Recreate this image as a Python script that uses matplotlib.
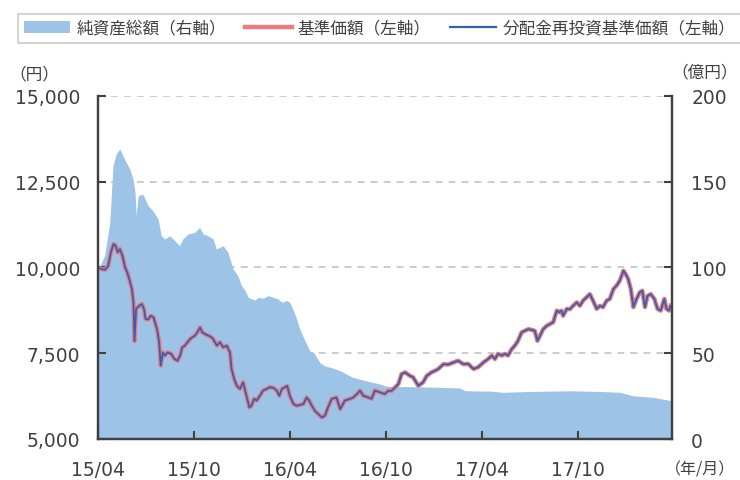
import pandas as pd
import matplotlib
matplotlib.use('Agg')
import matplotlib.pyplot as plt
import matplotlib.dates as mdates
from matplotlib.patches import Patch
from matplotlib.lines import Line2D
from matplotlib.ticker import FuncFormatter

plt.rcParams['font.family'] = ['DejaVu Sans', 'Noto Sans CJK JP']

start = pd.Timestamp('2015-04-01')

# 基準価額（円）: 経過日数 (2015/04/01起点) と値
nav_day = [0, 6, 13, 19, 24, 29, 33, 37, 41, 46, 51, 55, 59, 64, 67, 69, 72, 78, 83, 87,
           90, 95, 100, 105, 108, 112, 116, 119, 123, 127, 132, 139, 145, 151, 156, 160, 165, 170, 175, 179,
           184, 189, 194, 198, 203, 210, 216, 219, 226, 232, 238, 245, 251, 254, 259, 264, 270, 276, 280, 284,
           288, 292, 297, 302, 308, 314, 321, 327, 334, 340, 345, 350, 356, 360, 365, 372, 378, 384, 391, 397,
           402, 407, 413, 419, 426, 432, 438, 445, 454, 461, 470, 480, 486, 493, 499, 505, 515, 521, 527, 537,
           546, 553, 559, 566, 572, 578, 585, 594, 600, 610, 619, 626, 635, 642, 648, 658, 667, 677, 686, 696,
           705, 715, 724, 734, 743, 750, 756, 762, 769, 775, 781, 788, 794, 800, 807, 813, 820, 826, 832, 837,
           842, 848, 855, 861, 867, 874, 879, 883, 886, 893, 899, 905, 912, 918, 924, 931, 937, 943, 950, 956,
           962, 969, 975, 982, 988, 994, 1001, 1005, 1010, 1015, 1020, 1026, 1032, 1037, 1042, 1047, 1053, 1060, 1066, 1072,
           1079, 1083, 1088, 1091]
nav = [10000, 9950, 9930, 10050, 10440, 10680, 10630, 10440, 10530, 10340, 10000, 9860, 9660, 9370, 8980, 7850, 8790, 8880, 8930, 8790,
       8500, 8480, 8590, 8550, 8400, 8200, 7820, 7140, 7520, 7430, 7520, 7480, 7330, 7280, 7430, 7670, 7720, 7820, 7910, 7960,
       8010, 8110, 8250, 8110, 8060, 8010, 7960, 7910, 7720, 7820, 7670, 7720, 7520, 7040, 6750, 6550, 6460, 6650, 6410, 6170,
       5920, 5970, 6170, 6120, 6260, 6410, 6460, 6510, 6490, 6410, 6260, 6460, 6510, 6550, 6260, 6020, 5970, 5990, 6020, 6210,
       6120, 5970, 5820, 5730, 5630, 5680, 5930, 6170, 6210, 5870, 6120, 6170, 6210, 6310, 6410, 6260, 6210, 6170, 6410, 6360,
       6310, 6410, 6400, 6510, 6600, 6890, 6940, 6840, 6800, 6550, 6650, 6840, 6940, 6990, 7040, 7180, 7170, 7230, 7280, 7180,
       7190, 7040, 7090, 7230, 7330, 7430, 7330, 7480, 7430, 7480, 7430, 7620, 7720, 7860, 8110, 8150, 8200, 8180, 8150, 7860,
       8010, 8200, 8300, 8350, 8400, 8740, 8690, 8740, 8590, 8790, 8780, 8880, 8980, 8880, 9030, 9130, 9220, 9030, 8790, 8880,
       8840, 9030, 9080, 9370, 9470, 9610, 9900, 9810, 9660, 9370, 8840, 9080, 9270, 9320, 8840, 9170, 9220, 9080, 8790, 8740,
       9080, 8790, 8740, 8880]

# 分配金再投資基準価額（円）: 分配実績なしのため基準価額と同じ
reinv_day = list(nav_day)
reinv = list(nav)

# 純資産総額（億円）
aum_day = [0, 12, 22, 28, 34, 41, 47, 53, 60, 66, 70, 72, 76, 85, 95, 104, 114, 120, 127, 136,
           146, 155, 161, 171, 184, 193, 200, 209, 219, 225, 238, 247, 257, 266, 273, 280, 286, 292, 299, 305,
           314, 324, 334, 343, 350, 359, 365, 372, 378, 384, 391, 397, 403, 410, 416, 423, 432, 442, 461, 485,
           512, 537, 550, 581, 613, 651, 689, 699, 747, 771, 823, 899, 956, 994, 1019, 1057, 1093]
aum = [99.0, 106.8, 126.4, 159.2, 166.0, 169.0, 165.0, 161.2, 157.3, 151.5, 143.7, 130.1, 141.7, 142.7, 135.9, 133.0, 128.2, 118.4, 116.5, 118.4,
       115.5, 112.6, 116.5, 119.4, 120.4, 123.3, 119.4, 118.4, 116.5, 110.7, 112.6, 108.8, 99.0, 95.1, 89.3, 86.4, 82.5, 81.6, 81.0, 82.5,
       82.0, 83.5, 82.5, 81.6, 79.6, 80.6, 79.6, 74.7, 69.9, 64.1, 59.2, 55.3, 51.4, 50.5, 47.6, 44.3, 42.5, 41.8, 39.8, 35.9,
       33.8, 32.0, 30.7, 30.5, 30.4, 30.1, 29.7, 28.1, 27.9, 27.2, 27.7, 28.1, 27.7, 27.2, 25.2, 24.3, 22.3]

nav_dates = start + pd.to_timedelta(nav_day, unit='D')
reinv_dates = start + pd.to_timedelta(reinv_day, unit='D')
aum_dates = start + pd.to_timedelta(aum_day, unit='D')

txt = '#404040'
c_area = '#9DC3E6'
c_red = '#EE7A80'
c_blue = '#2E62B2'

fig = plt.figure(figsize=(7.4, 4.81), dpi=100)
ax = fig.add_axes([98.3 / 740, 1 - 440 / 481, (671.7 - 98.3) / 740, (440 - 96.7) / 481])
ax2 = ax.twinx()

# 面グラフ（右軸）とグリッドは後ろ、線は前
ax2.fill_between(aum_dates, aum, 0, color=c_area, lw=0, zorder=1)
ax2.set_ylim(0, 200)
ax2.set_yticks([0, 50, 100, 150, 200])
ax2.yaxis.grid(True, ls=(0, (4.5, 4)), color='#BFBFBF', lw=1.1)
ax2.set_axisbelow(True)

ax.set_zorder(ax2.get_zorder() + 1)
ax.patch.set_visible(False)
ax.plot(nav_dates, nav, color=c_red, lw=3.2, solid_joinstyle='round')
ax.plot(reinv_dates, reinv, color=c_blue, lw=1.3)
ax.set_ylim(5000, 15000)
ax.set_yticks([5000, 7500, 10000, 12500, 15000])
ax.yaxis.set_major_formatter(FuncFormatter(lambda v, p: f'{int(v):,}'))

ax.set_xlim(start, start + pd.Timedelta(days=1093))
ax.xaxis.set_major_locator(mdates.MonthLocator(bymonth=[4, 10]))
ax.xaxis.set_major_formatter(mdates.DateFormatter('%y/%m'))

for a in (ax, ax2):
    a.spines['top'].set_visible(False)
    for s in ('left', 'right', 'bottom'):
        a.spines[s].set_color(txt)
        a.spines[s].set_linewidth(1.6)
ax.tick_params(axis='y', direction='in', length=6, width=1.5, color=txt,
               labelsize=13.5, labelcolor=txt, pad=13)
ax.tick_params(axis='x', direction='in', length=6, width=1.5, color=txt,
               labelsize=13.5, labelcolor=txt, pad=15)
ax2.tick_params(axis='y', direction='in', length=6, width=1.5, color=txt,
                labelsize=13.5, labelcolor=txt, pad=14)

fig.text(34 / 740, 1 - 75 / 481, '（円）', ha='center', va='center', fontsize=12,
         color=txt, family=['Noto Sans CJK JP'])
fig.text(705 / 740, 1 - 73 / 481, '（億円）', ha='center', va='center', fontsize=12,
         color=txt, family=['Noto Sans CJK JP'])
fig.text(700 / 740, 1 - 470 / 481, '（年/月）', ha='center', va='center', fontsize=11.5,
         color=txt, family=['Noto Sans CJK JP'])

handles = [Patch(facecolor=c_area, edgecolor='none'),
           Line2D([], [], color=c_red, lw=3.2),
           Line2D([], [], color=c_blue, lw=1.6)]
labels = ['純資産総額（右軸）', '基準価額（左軸）', '分配金再投資基準価額（左軸）']
leg = fig.legend(handles, labels, loc='upper left', bbox_to_anchor=(18 / 740, 1 - 15 / 481),
                 ncol=3, frameon=True, fancybox=False, edgecolor='#BFBFBF',
                 prop={'family': ['Noto Sans CJK JP'], 'size': 12},
                 handlelength=2.8, handleheight=0.7, handletextpad=0.35,
                 columnspacing=1.15, borderpad=0.35, borderaxespad=0)
leg.get_frame().set_linewidth(1.2)
for t in leg.get_texts():
    t.set_color(txt)

fig.savefig('out.png', dpi=100)
